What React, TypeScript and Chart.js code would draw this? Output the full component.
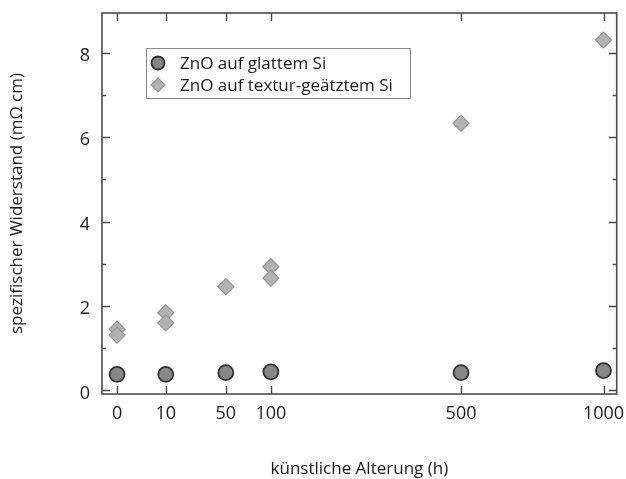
import React, { useEffect, useRef } from "react";
import { Chart, registerables } from "chart.js";

Chart.register(...registerables);

// ---- data ----
const xTickHours = [0, 10, 50, 100, 500, 1000];
const xTickLabels = ["0", "10", "50", "100", "500", "1000"];
const yMajorTicks = [0, 2, 4, 6, 8];
const yMinorTicks = [1, 3, 5, 7];

const smoothHours = [0, 10, 50, 100, 500, 1000];
const smoothValues = [0.38, 0.38, 0.42, 0.44, 0.42, 0.47];

const texturedHours = [0, 0, 10, 10, 50, 100, 100, 500, 1000];
const texturedValues = [1.45, 1.31, 1.84, 1.6, 2.46, 2.93, 2.66, 6.33, 8.3];

const seriesNames = ["ZnO auf glattem Si", "ZnO auf textur-geätztem Si"];
const xTitle = "künstliche Alterung (h)";
const yTitle = "spezifischer Widerstand (mΩ cm)";

// square-root time axis
const toAxis = (h: number) => Math.sqrt(h);

const FONT = "'Open Sans', 'DejaVu Sans', sans-serif";
const AXIS_COLOR = "#4a4a4a";
const TEXT_COLOR = "#1a1a1a";

const framePlugin = {
  id: "frameTicks",
  beforeDatasetsDraw(chart: any) {
    const { ctx, chartArea } = chart;
    const { left, right, top, bottom } = chartArea;
    const xs = chart.scales.x;
    const ys = chart.scales.y;
    ctx.save();
    ctx.strokeStyle = AXIS_COLOR;
    ctx.lineWidth = 1.6;
    ctx.strokeRect(left, top, right - left, bottom - top);
    ctx.lineWidth = 1.4;
    ctx.beginPath();
    const major = 8;
    const minor = 4;
    xTickHours.forEach((h) => {
      const px = Math.round(xs.getPixelForValue(toAxis(h))) + 0.5;
      ctx.moveTo(px, bottom);
      ctx.lineTo(px, bottom - major);
      ctx.moveTo(px, top);
      ctx.lineTo(px, top + major);
    });
    yMajorTicks.forEach((v) => {
      const py = Math.round(ys.getPixelForValue(v)) + 0.5;
      ctx.moveTo(left, py);
      ctx.lineTo(left + major, py);
      ctx.moveTo(right, py);
      ctx.lineTo(right - major, py);
    });
    yMinorTicks.forEach((v) => {
      const py = Math.round(ys.getPixelForValue(v)) + 0.5;
      ctx.moveTo(left, py);
      ctx.lineTo(left + minor, py);
      ctx.moveTo(right, py);
      ctx.lineTo(right - minor, py);
    });
    ctx.stroke();
    ctx.restore();
  },
};

const legendPlugin = {
  id: "insideLegend",
  afterDraw(chart: any) {
    const { ctx, chartArea } = chart;
    const bx = chartArea.left + 44;
    const by = chartArea.top + 35;
    const bw = 264;
    const bh = 50;
    ctx.save();
    ctx.fillStyle = "#ffffff";
    ctx.fillRect(bx, by, bw, bh);
    ctx.strokeStyle = "#8a8a8a";
    ctx.lineWidth = 1;
    ctx.strokeRect(bx + 0.5, by + 0.5, bw, bh);
    ctx.font = `17px ${FONT}`;
    ctx.textBaseline = "middle";
    ctx.fillStyle = TEXT_COLOR;
    chart.data.datasets.forEach((ds: any, i: number) => {
      const cy = by + 15 + i * 22;
      const cx = bx + 12;
      ctx.save();
      ctx.fillStyle = ds.backgroundColor;
      ctx.strokeStyle = ds.borderColor;
      ctx.lineWidth = ds.borderWidth;
      ctx.beginPath();
      if (ds.pointStyle === "rectRot") {
        const r = 7;
        ctx.moveTo(cx - r, cy);
        ctx.lineTo(cx, cy - r);
        ctx.lineTo(cx + r, cy);
        ctx.lineTo(cx, cy + r);
        ctx.closePath();
      } else {
        ctx.arc(cx, cy, 6.5, 0, Math.PI * 2);
      }
      ctx.fill();
      ctx.stroke();
      ctx.restore();
      ctx.fillStyle = TEXT_COLOR;
      ctx.fillText(ds.label, bx + 34, cy + 1);
    });
    ctx.restore();
  },
};

export default function App() {
  const canvasRef = useRef<HTMLCanvasElement | null>(null);

  useEffect(() => {
    document.body.style.margin = "0";
    const canvas = canvasRef.current;
    if (!canvas) return;
    const chart = new Chart(canvas, {
      type: "scatter",
      data: {
        datasets: [
          {
            label: seriesNames[0],
            data: smoothHours.map((h, i) => ({ x: toAxis(h), y: smoothValues[i] })),
            pointStyle: "circle",
            pointRadius: 7.5,
            backgroundColor: "#878787",
            borderColor: "#333333",
            borderWidth: 1.8,
            clip: false,
          },
          {
            label: seriesNames[1],
            data: texturedHours.map((h, i) => ({ x: toAxis(h), y: texturedValues[i] })),
            pointStyle: "rectRot",
            pointRadius: 8,
            backgroundColor: "#b2b2b2",
            borderColor: "#949494",
            borderWidth: 1.2,
            clip: false,
          },
        ],
      },
      options: {
        responsive: false,
        animation: false,
        events: [],
        layout: { padding: { top: 13, right: 6, left: 0, bottom: 0 } },
        plugins: {
          legend: { display: false },
          tooltip: { enabled: false },
        },
        scales: {
          x: {
            type: "linear",
            min: -0.98,
            max: 32.48,
            afterFit(scale: any) {
              scale.height = 85;
              scale.paddingLeft = 0;
              scale.paddingRight = 0;
              scale.paddingTop = 0;
              scale.paddingBottom = 0;
            },
            afterBuildTicks(scale: any) {
              scale.ticks = xTickHours.map((h) => ({ value: toAxis(h) }));
            },
            grid: { display: false, drawTicks: false },
            border: { display: false },
            ticks: {
              autoSkip: false,
              maxRotation: 0,
              padding: 9,
              color: TEXT_COLOR,
              font: { family: FONT, size: 18 },
              callback: (_v: any, i: number) => xTickLabels[i],
            },
            title: {
              display: true,
              text: xTitle,
              color: TEXT_COLOR,
              font: { family: FONT, size: 17 },
              padding: { top: 0, bottom: 0 },
            },
          },
          y: {
            type: "linear",
            min: -0.085,
            max: 8.94,
            afterFit(scale: any) {
              scale.width = 102;
              scale.paddingLeft = 0;
              scale.paddingRight = 0;
              scale.paddingTop = 0;
              scale.paddingBottom = 0;
            },
            afterBuildTicks(scale: any) {
              scale.ticks = yMajorTicks.map((v) => ({ value: v }));
            },
            grid: { display: false, drawTicks: false },
            border: { display: false },
            ticks: {
              padding: 12,
              labelOffset: 3,
              color: TEXT_COLOR,
              font: { family: FONT, size: 18 },
              callback: (v: any) => String(v),
            },
            title: {
              display: true,
              text: yTitle,
              color: TEXT_COLOR,
              font: { family: FONT, size: 17 },
              padding: { top: 7, bottom: 0 },
            },
          },
        },
      },
      plugins: [framePlugin, legendPlugin],
    } as any);
    return () => chart.destroy();
  }, []);

  return (
    <div style={{ width: 626, height: 479, background: "#ffffff" }}>
      <canvas ref={canvasRef} width={626} height={479} />
    </div>
  );
}
